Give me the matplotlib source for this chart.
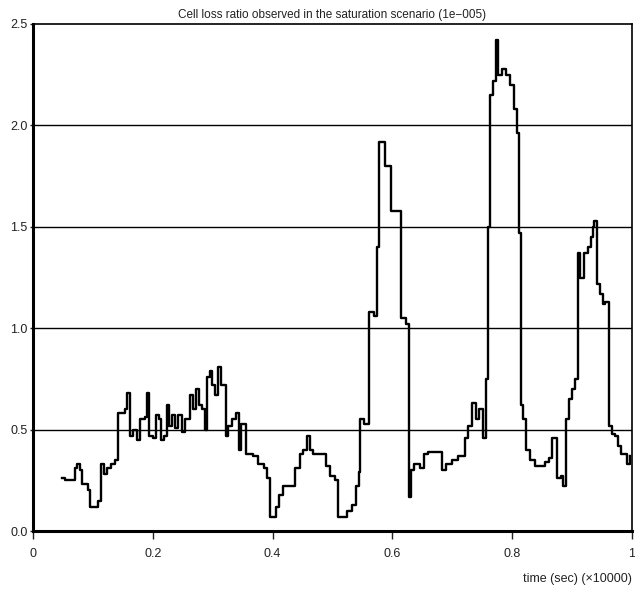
import matplotlib
matplotlib.use("Agg")
import matplotlib.pyplot as plt

# --- data: cell loss ratio (x 1e-5) vs time (x 10000 sec) ---
time_x = [
    0.048, 0.053, 0.070, 0.073, 0.078, 0.082, 0.092, 0.095, 0.109, 0.114,
    0.119, 0.124, 0.130, 0.137, 0.142, 0.154, 0.157, 0.162, 0.167, 0.174,
    0.179, 0.187, 0.190, 0.194, 0.200, 0.205, 0.210, 0.214, 0.219, 0.224,
    0.227, 0.232, 0.237, 0.242, 0.249, 0.254, 0.262, 0.267, 0.272, 0.277,
    0.282, 0.287, 0.290, 0.295, 0.299, 0.304, 0.309, 0.314, 0.322, 0.326,
    0.332, 0.339, 0.344, 0.347, 0.356, 0.367, 0.376, 0.386, 0.391, 0.396,
    0.406, 0.411, 0.417, 0.437, 0.446, 0.451, 0.457, 0.462, 0.467, 0.479,
    0.489, 0.496, 0.504, 0.509, 0.524, 0.533, 0.539, 0.544, 0.546, 0.553,
    0.561, 0.569, 0.574, 0.578, 0.588, 0.598, 0.614, 0.623, 0.628, 0.631,
    0.636, 0.646, 0.653, 0.659, 0.683, 0.689, 0.699, 0.710, 0.721, 0.726,
    0.733, 0.740, 0.745, 0.751, 0.756, 0.760, 0.763, 0.768, 0.773, 0.776,
    0.783, 0.790, 0.796, 0.803, 0.808, 0.811, 0.815, 0.818, 0.823, 0.830,
    0.838, 0.855, 0.861, 0.866, 0.875, 0.881, 0.885, 0.890, 0.895, 0.900,
    0.905, 0.910, 0.913, 0.920, 0.927, 0.932, 0.935, 0.937, 0.942, 0.947,
    0.952, 0.955, 0.962, 0.967, 0.972, 0.977, 0.982, 0.992, 0.997,
]
loss_ratio = [
    0.26, 0.25, 0.31, 0.33, 0.30, 0.23, 0.20, 0.12, 0.15, 0.33,
    0.28, 0.31, 0.33, 0.35, 0.58, 0.60, 0.68, 0.47, 0.50, 0.45,
    0.55, 0.56, 0.68, 0.47, 0.46, 0.57, 0.55, 0.45, 0.47, 0.62,
    0.52, 0.57, 0.51, 0.57, 0.49, 0.55, 0.67, 0.60, 0.70, 0.62,
    0.60, 0.50, 0.76, 0.79, 0.72, 0.67, 0.81, 0.72, 0.47, 0.52,
    0.55, 0.58, 0.40, 0.53, 0.38, 0.37, 0.33, 0.31, 0.26, 0.07,
    0.12, 0.18, 0.22, 0.31, 0.38, 0.40, 0.47, 0.40, 0.38, 0.38,
    0.32, 0.27, 0.25, 0.07, 0.10, 0.13, 0.22, 0.29, 0.55, 0.53,
    1.08, 1.06, 1.40, 1.92, 1.80, 1.58, 1.05, 1.02, 0.17, 0.30,
    0.33, 0.31, 0.38, 0.39, 0.30, 0.33, 0.35, 0.37, 0.46, 0.52,
    0.63, 0.55, 0.60, 0.46, 0.75, 1.50, 2.15, 2.22, 2.42, 2.25,
    2.28, 2.25, 2.20, 2.08, 1.96, 1.47, 0.62, 0.55, 0.40, 0.35,
    0.32, 0.34, 0.36, 0.46, 0.26, 0.27, 0.22, 0.55, 0.65, 0.70,
    0.75, 1.37, 1.25, 1.37, 1.40, 1.45, 1.50, 1.53, 1.22, 1.17,
    1.12, 1.13, 0.52, 0.48, 0.47, 0.42, 0.38, 0.33, 0.37,
]

x_ticks = [0, 0.2, 0.4, 0.6, 0.8, 1]
x_tick_labels = ["0", "0.2", "0.4", "0.6", "0.8", "1"]
y_ticks = [0.0, 0.5, 1.0, 1.5, 2.0, 2.5]

plt.rcParams["font.family"] = ["Liberation Sans", "DejaVu Sans"]

fig = plt.figure(figsize=(6.35, 5.92), dpi=100)
ax = fig.add_axes([0.052, 0.103, 0.943, 0.8565])

# horizontal grid lines
for yv in y_ticks[1:-1]:
    ax.axhline(yv, color="black", linewidth=1.0, zorder=1)

ax.plot(time_x, loss_ratio, drawstyle="steps-post", color="black",
        linewidth=1.7, zorder=3)

ax.set_xlim(0, 1)
ax.set_ylim(0, 2.5)
ax.set_xticks(x_ticks)
ax.set_xticklabels(x_tick_labels)
ax.set_yticks(y_ticks)
ax.set_yticklabels([f"{v:.1f}" for v in y_ticks])

ax.tick_params(axis="x", direction="out", length=6, width=1,
               labelsize=9, pad=6, colors="#222222")
ax.tick_params(axis="y", direction="out", length=2, width=1,
               labelsize=9, pad=2, colors="#222222")

ax.spines["left"].set_linewidth(2.2)
ax.spines["bottom"].set_linewidth(2.2)
ax.spines["top"].set_linewidth(1.2)
ax.spines["right"].set_linewidth(1.2)

ax.set_title("Cell loss ratio observed in the saturation scenario (1e\u2212005)",
             fontsize=8.5, pad=4, color="#222222")
fig.text(0.995, 0.012, "time (sec) (\u00d710000)", ha="right", va="bottom",
         fontsize=9, color="#222222")

fig.savefig("out.png", dpi=100)
